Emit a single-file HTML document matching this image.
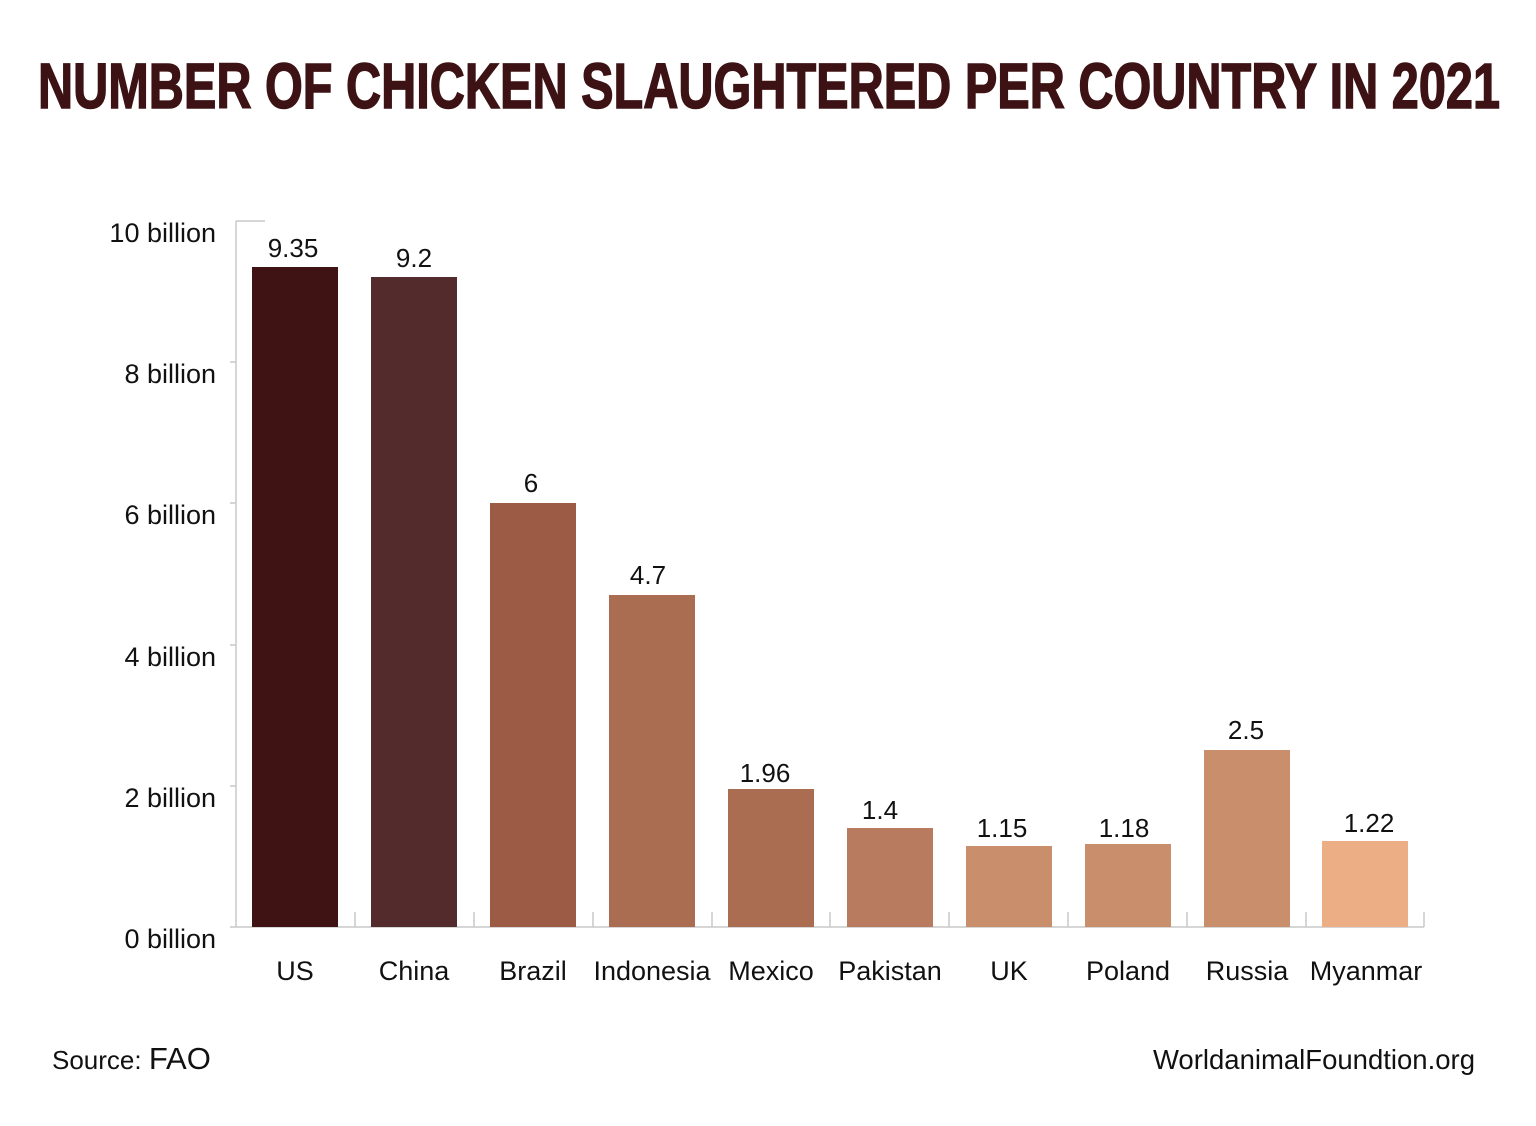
<!DOCTYPE html>
<html><head><meta charset="utf-8"><style>body{margin:0;background:#fff}svg{display:block}</style></head>
<body>
<svg width="1536" height="1126" xmlns="http://www.w3.org/2000/svg" font-family="Liberation Sans, Arial, sans-serif">
<rect width="1536" height="1126" fill="#fff"/>
<text x="38" y="108" font-family="Liberation Sans Narrow, Liberation Sans, sans-serif" font-weight="bold" font-size="64" fill="#3d1214" textLength="1462" lengthAdjust="spacingAndGlyphs" stroke="#3d1214" stroke-width="1.5">NUMBER OF CHICKEN SLAUGHTERED PER COUNTRY IN 2021</text>
<g stroke="#c8c8c8" stroke-width="1.5" fill="none">
<line x1="236" y1="221" x2="236" y2="927"/>
<line x1="236" y1="927" x2="1424" y2="927"/>
<line x1="236" y1="221" x2="265" y2="221"/>
<line x1="230" y1="362" x2="236" y2="362"/>
<line x1="230" y1="503" x2="236" y2="503"/>
<line x1="230" y1="645" x2="236" y2="645"/>
<line x1="230" y1="786" x2="236" y2="786"/>
<line x1="230" y1="927" x2="236" y2="927"/>
<line x1="355" y1="912" x2="355" y2="927"/><line x1="474" y1="912" x2="474" y2="927"/><line x1="593" y1="912" x2="593" y2="927"/><line x1="712" y1="912" x2="712" y2="927"/><line x1="830" y1="912" x2="830" y2="927"/><line x1="949" y1="912" x2="949" y2="927"/><line x1="1068" y1="912" x2="1068" y2="927"/><line x1="1187" y1="912" x2="1187" y2="927"/><line x1="1306" y1="912" x2="1306" y2="927"/><line x1="1424" y1="912" x2="1424" y2="927"/>
</g>
<g font-size="27" fill="#111" text-anchor="end">
<text x="216" y="242">10 billion</text>
<text x="216" y="383">8 billion</text>
<text x="216" y="524">6 billion</text>
<text x="216" y="666">4 billion</text>
<text x="216" y="807">2 billion</text>
<text x="216" y="948">0 billion</text>
</g>
<g>
<rect x="252" y="267" width="86" height="660" fill="#3f1214"/>
<rect x="371" y="277" width="86" height="650" fill="#532b2d"/>
<rect x="490" y="503" width="86" height="424" fill="#9b5b45"/>
<rect x="609" y="595" width="86" height="332" fill="#ab6d52"/>
<rect x="728" y="789" width="86" height="138" fill="#ab6d52"/>
<rect x="847" y="828" width="86" height="99" fill="#b87b5f"/>
<rect x="966" y="846" width="86" height="81" fill="#c98e6c"/>
<rect x="1085" y="844" width="86" height="83" fill="#c98e6c"/>
<rect x="1204" y="750" width="86" height="177" fill="#c98e6c"/>
<rect x="1322" y="841" width="86" height="86" fill="#ecae84"/>
</g>
<g font-size="26" fill="#111" text-anchor="middle">
<text x="293" y="257">9.35</text>
<text x="414" y="267">9.2</text>
<text x="531" y="492">6</text>
<text x="648" y="584">4.7</text>
<text x="765" y="782">1.96</text>
<text x="880" y="819">1.4</text>
<text x="1002" y="837">1.15</text>
<text x="1124" y="837">1.18</text>
<text x="1246" y="739">2.5</text>
<text x="1369" y="832">1.22</text>
</g>
<g font-size="27" fill="#111" text-anchor="middle">
<text x="295" y="980">US</text>
<text x="414" y="980">China</text>
<text x="533" y="980">Brazil</text>
<text x="652" y="980">Indonesia</text>
<text x="771" y="980">Mexico</text>
<text x="890" y="980">Pakistan</text>
<text x="1009" y="980">UK</text>
<text x="1128" y="980">Poland</text>
<text x="1247" y="980">Russia</text>
<text x="1366" y="980">Myanmar</text>
</g>
<text x="52" y="1069" font-size="26" fill="#111">Source: <tspan font-size="31">FAO</tspan></text>
<text x="1475" y="1069" font-size="27.5" fill="#111" text-anchor="end">WorldanimalFoundtion.org</text>
</svg>
</body></html>
